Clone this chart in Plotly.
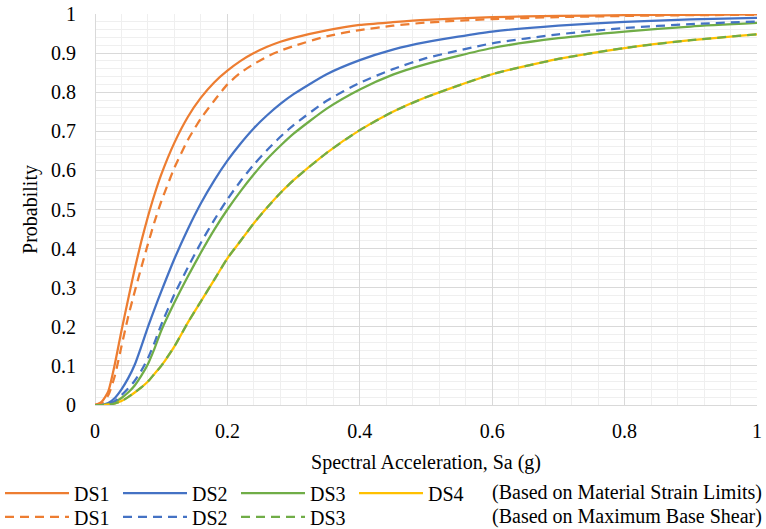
import plotly.graph_objects as go

# Spectral acceleration sample points (g)
sa = [0, 0.01, 0.02, 0.03, 0.04, 0.05, 0.06, 0.07, 0.08, 0.09, 0.10,
      0.12, 0.14, 0.16, 0.18, 0.20, 0.22, 0.24, 0.26, 0.28, 0.30,
      0.35, 0.40, 0.45, 0.50, 0.60, 0.70, 0.80, 0.90, 1.00]

# Based on material strain limits (solid)
ds1_strain = [0, 0.008, 0.035, 0.105, 0.19, 0.27, 0.348, 0.419, 0.482, 0.539, 0.589,
              0.671, 0.736, 0.786, 0.825, 0.855, 0.880, 0.900, 0.916, 0.929, 0.939,
              0.958, 0.972, 0.979, 0.985, 0.992, 0.995, 0.997, 0.998, 0.999]
ds2_strain = [0, 0, 0.005, 0.018, 0.04, 0.068, 0.103, 0.15, 0.2, 0.246, 0.29,
              0.374, 0.449, 0.516, 0.574, 0.625, 0.669, 0.708, 0.741, 0.770, 0.795,
              0.846, 0.882, 0.909, 0.928, 0.955, 0.970, 0.980, 0.986, 0.990]
ds3_strain = [0, 0, 0.002, 0.008, 0.018, 0.032, 0.05, 0.075, 0.105, 0.145, 0.19,
              0.262, 0.328, 0.39, 0.448, 0.5, 0.547, 0.590, 0.629, 0.663, 0.694,
              0.758, 0.807, 0.845, 0.872, 0.913, 0.938, 0.955, 0.968, 0.977]
ds4_strain = [0, 0, 0.001, 0.004, 0.01, 0.02, 0.032, 0.045, 0.06, 0.08, 0.1,
              0.15, 0.21, 0.265, 0.32, 0.375, 0.42, 0.465, 0.505, 0.542, 0.575,
              0.645, 0.703, 0.750, 0.787, 0.846, 0.885, 0.913, 0.933, 0.948]

# Based on maximum base shear (dashed)
ds1_shear = [0, 0.005, 0.025, 0.075, 0.15, 0.225, 0.29, 0.352, 0.412, 0.469, 0.52,
             0.607, 0.677, 0.733, 0.778, 0.82, 0.85, 0.872, 0.891, 0.906, 0.918,
             0.943, 0.959, 0.970, 0.978, 0.987, 0.992, 0.995, 0.997, 0.998]
ds2_shear = [0, 0, 0.003, 0.01, 0.025, 0.042, 0.062, 0.088, 0.12, 0.16, 0.205,
             0.283, 0.351, 0.415, 0.473, 0.526, 0.573, 0.615, 0.652, 0.686, 0.716,
             0.778, 0.824, 0.859, 0.887, 0.925, 0.948, 0.964, 0.974, 0.981]
ds3_shear = [0, 0, 0.001, 0.004, 0.01, 0.02, 0.032, 0.045, 0.06, 0.08, 0.1,
             0.15, 0.21, 0.265, 0.32, 0.375, 0.42, 0.465, 0.505, 0.542, 0.575,
             0.645, 0.703, 0.750, 0.787, 0.846, 0.885, 0.913, 0.933, 0.948]

x_ticks = [0, 0.2, 0.4, 0.6, 0.8, 1]
x_tick_labels = ["0", "0.2", "0.4", "0.6", "0.8", "1"]
y_ticks = [0, 0.1, 0.2, 0.3, 0.4, 0.5, 0.6, 0.7, 0.8, 0.9, 1]
y_tick_labels = ["0", "0.1", "0.2", "0.3", "0.4", "0.5", "0.6", "0.7", "0.8", "0.9", "1"]

names = ["DS1", "DS2", "DS3", "DS4"]
colors = ["#ED7D31", "#4472C4", "#70AD47", "#FFC000"]
FONT = "Liberation Serif, serif"
F20 = dict(family=FONT, size=20, color="black")

fig = go.Figure()
for name, ys, col in zip(names, [ds1_strain, ds2_strain, ds3_strain, ds4_strain], colors):
    fig.add_trace(go.Scatter(x=sa, y=ys, mode="lines", name=name, legend="legend",
                             line=dict(color=col, width=2.25, shape="spline", smoothing=0.6)))
for name, ys, col in zip(names[:3], [ds1_shear, ds2_shear, ds3_shear], colors[:3]):
    fig.add_trace(go.Scatter(x=sa, y=ys, mode="lines", name=name, legend="legend2",
                             line=dict(color=col, width=2.25, dash="9px,6px", shape="spline", smoothing=0.6)))

grid_major = "#d9d9d9"
grid_minor = "#efefef"

fig.update_layout(
    template="none",
    width=766, height=529,
    margin=dict(l=95, r=9, t=14, b=124, autoexpand=False),
    paper_bgcolor="white", plot_bgcolor="white",
    font=F20,
    xaxis=dict(range=[0, 1], tickmode="array", tickvals=x_ticks, ticktext=x_tick_labels,
               showgrid=True, gridcolor=grid_major, gridwidth=1,
               zeroline=True, zerolinecolor=grid_major, zerolinewidth=1, showline=False, ticks="",
               minor=dict(dtick=0.04, showgrid=True, gridcolor=grid_minor, gridwidth=1, ticks=""),
               title=dict(text="Spectral Acceleration, Sa (g)", font=F20, standoff=13),
               tickfont=F20, ticklabelstandoff=12),
    yaxis=dict(range=[0, 1], tickmode="array", tickvals=y_ticks, ticktext=y_tick_labels,
               showgrid=True, gridcolor=grid_major, gridwidth=1,
               zeroline=True, zerolinecolor=grid_major, zerolinewidth=1, showline=False, ticks="",
               minor=dict(dtick=0.02, showgrid=True, gridcolor=grid_minor, gridwidth=1, ticks=""),
               title=dict(text="Probability", font=F20, standoff=8),
               tickfont=F20, ticklabelstandoff=18),
    legend=dict(orientation="h", xref="container", yref="container", x=0.0, y=0.068,
                xanchor="left", yanchor="middle", font=F20, entrywidth=39,
                itemwidth=64, bgcolor="rgba(0,0,0,0)", borderwidth=0, tracegroupgap=0),
    legend2=dict(orientation="h", xref="container", yref="container", x=0.0, y=0.023,
                 xanchor="left", yanchor="middle", font=F20, entrywidth=39,
                 itemwidth=64, bgcolor="rgba(0,0,0,0)", borderwidth=0, tracegroupgap=0),
    annotations=[
        dict(text="(Based on Material Strain Limits)", xref="paper", yref="paper",
             x=1.0106, y=-0.225, xanchor="right", yanchor="middle", showarrow=False,
             font=F20),
        dict(text="(Based on Maximum Base Shear)", xref="paper", yref="paper",
             x=1.0106, y=-0.286, xanchor="right", yanchor="middle", showarrow=False,
             font=F20),
    ],
)

fig.write_html("out.html", config={"displayModeBar": False},
               post_script="document.body.style.margin='0px';")
